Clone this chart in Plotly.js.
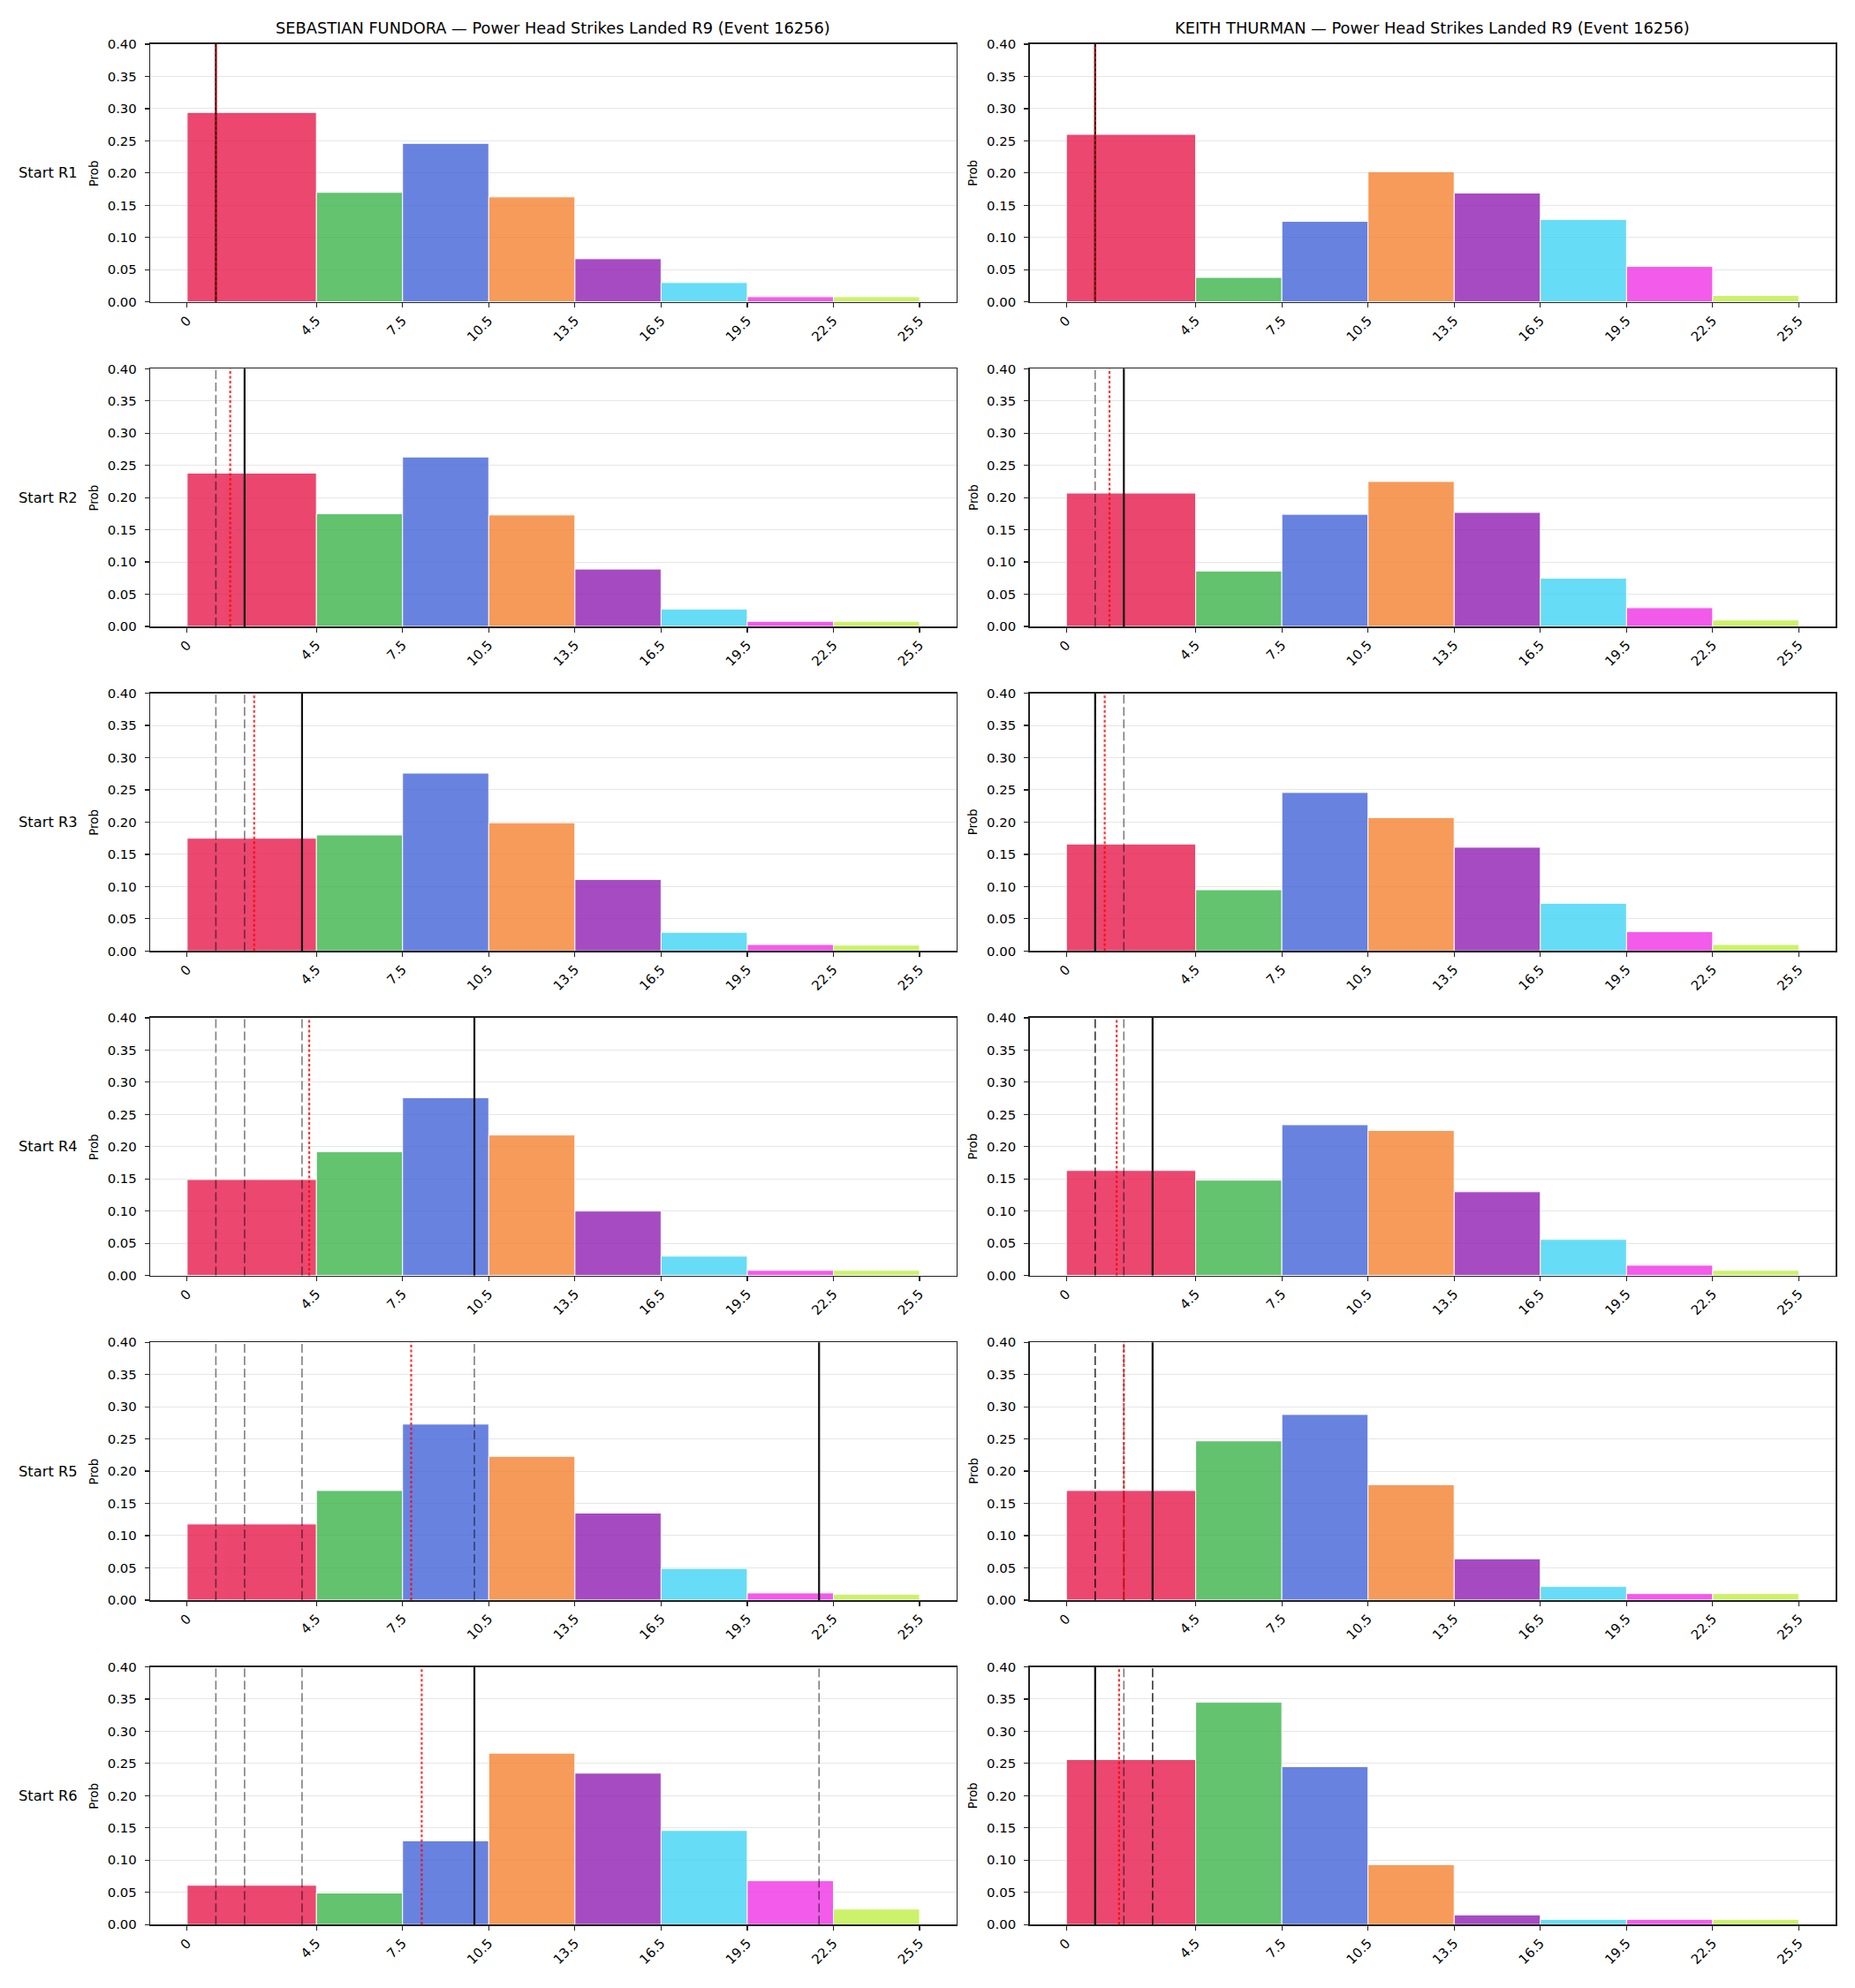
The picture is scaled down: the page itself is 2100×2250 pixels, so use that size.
<!DOCTYPE html>
<html>
<head>
<meta charset="utf-8">
<script src="https://cdn.plot.ly/plotly-3.0.1.min.js"></script>
<style>
  html, body { margin: 0; padding: 0; background: #ffffff; }
  #chart { width: 2100px; height: 2250px; }
</style>
</head>
<body>
<div id="chart"></div>
<script>
// Bin edges of the landed-strike distribution and their tick labels
const binEdges = [0, 4.5, 7.5, 10.5, 13.5, 16.5, 19.5, 22.5, 25.5];
const binTickText = ['0', '4.5', '7.5', '10.5', '13.5', '16.5', '19.5', '22.5', '25.5'];
const binColors = ['#e6194b', '#3cb44b', '#4363d8', '#f58231', '#911eb4', '#42d4f4', '#f032e6', '#bfef45'];

const fighterNames = ['SEBASTIAN FUNDORA', 'KEITH THURMAN'];
const rowLabels = ['Start R1', 'Start R2', 'Start R3', 'Start R4', 'Start R5', 'Start R6'];

// Probability per bin, one array per starting round
const fundoraR1 = [0.294, 0.170, 0.246, 0.163, 0.067, 0.030, 0.008, 0.008];
const fundoraR2 = [0.238, 0.175, 0.263, 0.173, 0.089, 0.027, 0.008, 0.008];
const fundoraR3 = [0.175, 0.180, 0.276, 0.199, 0.111, 0.029, 0.010, 0.009];
const fundoraR4 = [0.149, 0.192, 0.276, 0.218, 0.100, 0.030, 0.008, 0.008];
const fundoraR5 = [0.118, 0.170, 0.273, 0.223, 0.135, 0.049, 0.011, 0.009];
const fundoraR6 = [0.061, 0.049, 0.130, 0.266, 0.235, 0.146, 0.068, 0.024];

const thurmanR1 = [0.260, 0.038, 0.125, 0.202, 0.169, 0.128, 0.055, 0.010];
const thurmanR2 = [0.207, 0.086, 0.174, 0.225, 0.177, 0.075, 0.029, 0.010];
const thurmanR3 = [0.166, 0.095, 0.246, 0.207, 0.161, 0.074, 0.030, 0.010];
const thurmanR4 = [0.163, 0.148, 0.234, 0.225, 0.130, 0.056, 0.016, 0.008];
const thurmanR5 = [0.170, 0.247, 0.288, 0.179, 0.064, 0.021, 0.010, 0.010];
const thurmanR6 = [0.256, 0.345, 0.245, 0.093, 0.015, 0.008, 0.008, 0.008];

// Observed power head strikes landed in each completed round
const fundoraLanded = [1, 2, 4, 10, 22, 10];
const thurmanLanded = [1, 2, 1, 3, 3, 1];

const probsByFighter = [
  [fundoraR1, fundoraR2, fundoraR3, fundoraR4, fundoraR5, fundoraR6],
  [thurmanR1, thurmanR2, thurmanR3, thurmanR4, thurmanR5, thurmanR6]
];
const landedByFighter = [fundoraLanded, thurmanLanded];

// Page geometry (pixels)
const W = 2100, H = 2250;
const colX = [[170.4, 1082.5], [1165.8, 2077.9]];
const rowTop0 = 50, rowPitch = 367.3, rowHeight = 291.7;

const FONT = 'DejaVu Sans, Liberation Sans, sans-serif';
const traces = [];
const shapes = [];
const annotations = [];
const layout = {
  width: W, height: H,
  margin: { l: 0, r: 0, t: 0, b: 0 },
  paper_bgcolor: '#ffffff',
  plot_bgcolor: '#ffffff',
  showlegend: false,
  font: { family: FONT, color: '#000000', size: 15 },
  barmode: 'overlay'
};

const widths = binEdges.slice(0, -1).map((e, i) => binEdges[i + 1] - e);
const lefts = binEdges.slice(0, -1);

for (let r = 0; r < 6; r++) {
  for (let c = 0; c < 2; c++) {
    const idx = r * 2 + c + 1;
    const xa = idx === 1 ? 'xaxis' : 'xaxis' + idx;
    const ya = idx === 1 ? 'yaxis' : 'yaxis' + idx;
    const xr = idx === 1 ? 'x' : 'x' + idx;
    const yr = idx === 1 ? 'y' : 'y' + idx;

    const top = rowTop0 + rowPitch * r;
    const bottom = top + rowHeight;
    const xd = [colX[c][0] / W, colX[c][1] / W];
    const yd = [1 - bottom / H, 1 - top / H];

    layout[xa] = {
      domain: xd, anchor: yr,
      range: [-1.275, 26.775],
      tickmode: 'array', tickvals: binEdges, ticktext: binTickText,
      tickangle: -45,
      ticks: 'outside', ticklen: 5, tickwidth: 1.2, tickcolor: '#222222',
      tickfont: { family: FONT, size: 14.9, color: '#000000' },
      showline: true, linecolor: '#222222', linewidth: 1.6, mirror: true,
      showgrid: false, zeroline: false, fixedrange: true
    };
    layout[ya] = {
      domain: yd, anchor: xr,
      range: [0, 0.4],
      tickmode: 'linear', tick0: 0, dtick: 0.05, tickformat: '.2f',
      ticks: 'outside', ticklen: 5, tickwidth: 1.2, tickcolor: '#222222',
      tickfont: { family: FONT, size: 14.9, color: '#000000' },
      ticklabelstandoff: 6,
      showline: true, linecolor: '#222222', linewidth: 1.6, mirror: true,
      showgrid: true, gridcolor: '#e6e6e6', gridwidth: 1,
      zeroline: false, fixedrange: true
    };

    // histogram bars spanning each bin
    traces.push({
      type: 'bar',
      x: lefts, y: probsByFighter[c][r], width: widths, offset: 0,
      xaxis: xr, yaxis: yr,
      marker: { color: binColors, opacity: 0.8, line: { color: '#ffffff', width: 1 } },
      hoverinfo: 'skip'
    });

    // reference lines: earlier rounds dashed, latest round solid, running mean dotted
    const seen = landedByFighter[c].slice(0, r + 1);
    const mean = seen.reduce((a, b) => a + b, 0) / seen.length;
    for (let k = 0; k < r; k++) {
      shapes.push({
        type: 'line', xref: xr, yref: yr + ' domain',
        x0: seen[k], x1: seen[k], y0: 0, y1: 1,
        line: { color: 'rgba(0,0,0,0.5)', width: 1.6, dash: '10px,4px' }
      });
    }
    shapes.push({
      type: 'line', xref: xr, yref: yr + ' domain',
      x0: seen[r], x1: seen[r], y0: 0, y1: 1,
      line: { color: '#111111', width: 2.2 }
    });
    shapes.push({
      type: 'line', xref: xr, yref: yr + ' domain',
      x0: mean, x1: mean, y0: 0, y1: 1,
      line: { color: 'rgba(255,0,0,0.8)', width: 2.2, dash: '3px,2.5px' }
    });

    // y-axis caption
    annotations.push({
      xref: 'paper', yref: 'paper',
      x: (colX[c][0] - 64) / W, y: (yd[0] + yd[1]) / 2,
      xanchor: 'center', yanchor: 'middle',
      text: 'Prob', textangle: -90, showarrow: false,
      font: { family: FONT, size: 13.4, color: '#000000' }
    });

    if (r === 0) {
      annotations.push({
        xref: 'paper', yref: 'paper',
        x: (xd[0] + xd[1]) / 2, y: yd[1],
        xanchor: 'center', yanchor: 'bottom', yshift: 6,
        text: fighterNames[c] + ' \u2014 Power Head Strikes Landed R9 (Event 16256)',
        showarrow: false,
        font: { family: FONT, size: 17.8, color: '#000000' }
      });
    }
    if (c === 0) {
      annotations.push({
        xref: 'paper', yref: 'paper',
        x: 90 / W, y: (yd[0] + yd[1]) / 2,
        xanchor: 'right', yanchor: 'middle',
        text: rowLabels[r], showarrow: false,
        font: { family: FONT, size: 16.3, color: '#000000' }
      });
    }
  }
}

layout.shapes = shapes;
layout.annotations = annotations;

Plotly.newPlot('chart', traces, layout, { staticPlot: true, displayModeBar: false });
</script>
</body>
</html>
